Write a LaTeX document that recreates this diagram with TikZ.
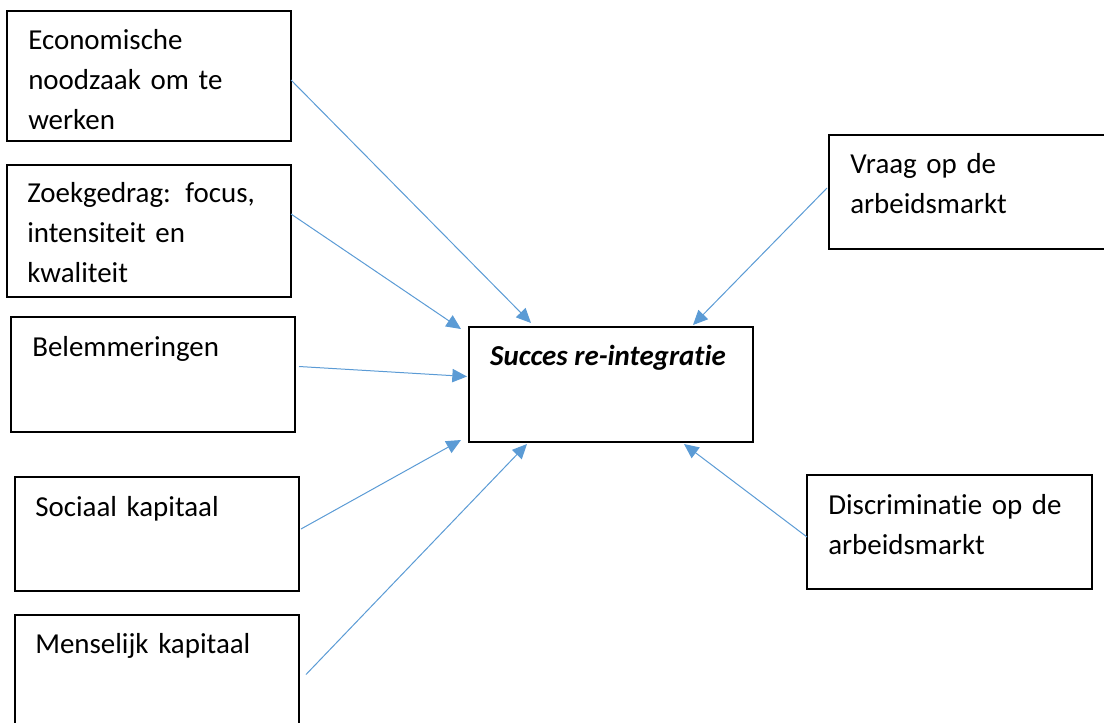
\documentclass[tikz,border=0pt]{standalone}
\usepackage{fontspec}
\setmainfont{Carlito}[Ligatures=NoCommon]
\usetikzlibrary{arrows.meta,calc}
\definecolor{pijlblauw}{RGB}{91,155,213}

\begin{document}
\begin{tikzpicture}[x=0.75pt,y=0.75pt,yscale=-1,xscale=1,
  blok/.style={draw, line width=1pt, inner sep=0pt, outer sep=0pt, minimum width=213pt, anchor=north west},
  tekst/.style={font=\fontsize{21.7}{30}\selectfont, inner sep=0pt, anchor=base west, text width=190pt, align=left},
  pijl/.style={draw=pijlblauw, line width=0.75pt, -{Triangle[length=11pt,width=10pt]}}
]
\path[use as bounding box] (0,0) rectangle (1104,722);

%Boxes left
\node[blok, minimum height=97.5pt] (econ) at (7,11) {};
\node[tekst] (econ-t) at ($(econ.north west)+(21,38)$) {Economische\\noodzaak om te\\werken};
\node[blok, minimum height=99pt] (zoek) at (7,165) {};
\node[tekst] (zoek-t) at ($(zoek.north west)+(20,37)$) {Zoekgedrag: focus,\\intensiteit en\\kwaliteit};
\node[blok, minimum height=86.25pt] (belem) at (11,317) {};
\node[tekst] (belem-t) at ($(belem.north west)+(21,39)$) {Belemmeringen};
\node[blok, minimum height=85.5pt] (sociaal) at (15,477) {};
\node[tekst] (sociaal-t) at ($(sociaal.north west)+(20,39)$) {Sociaal kapitaal};
\node[blok, minimum height=86.25pt] (mens) at (15,615) {};
\node[tekst] (mens-t) at ($(mens.north west)+(20,38)$) {Menselijk kapitaal};

%Center box
\node[blok, minimum height=86.25pt] (succes) at (469,327) {};
\node[font=\fontsize{21.7}{30}\selectfont\bfseries\itshape, inner sep=0pt, anchor=base] (succes-t) at ($(succes.north)+(-3,38)$) {Succes re-integratie};

%Boxes right
\node[blok, minimum height=85.5pt] (vraag) at (829,135) {};
\node[tekst] (vraag-t) at ($(vraag.north west)+(21,38)$) {Vraag op de\\arbeidsmarkt};
\node[blok, minimum height=85.5pt, minimum width=213.75pt] (discrim) at (807,475) {};
\node[tekst] (discrim-t) at ($(discrim.north west)+(21,39)$) {Discriminatie op de\\arbeidsmarkt};

%Arrows
\draw[pijl] ($(econ.east)+(0,4)$) -- ($(succes.north west)+(62,-4)$);
\draw[pijl] ($(zoek.east)+(0,-17)$) -- ($(succes.north west)+(-8,2)$);
\draw[pijl] ($(belem.east)+(4,-8)$) -- ($(succes.west)+(-2,-8)$);
\draw[pijl] ($(sociaal.east)+(2,-5)$) -- ($(succes.south west)+(-8,-2)$);
\draw[pijl] ($(mens.east)+(7,2)$) -- ($(succes.south west)+(58,2)$);
\draw[pijl] ($(vraag.west)+(-2,-4)$) -- ($(succes.north east)+(-60,-2)$);
\draw[pijl] ($(discrim.west)+(0,5)$) -- ($(succes.south east)+(-69,2)$);

\end{tikzpicture}
\end{document}
